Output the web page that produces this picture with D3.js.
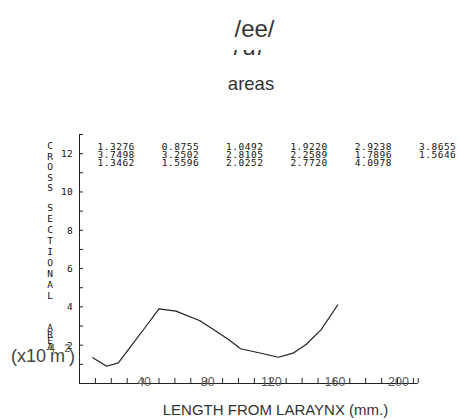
<!DOCTYPE html>
<html>
<head>
<meta charset="utf-8">
<script src="https://cdn.jsdelivr.net/npm/d3@7"></script>
<style>
  html, body { margin: 0; padding: 0; background: #fff; }
  svg { display: block; }
  .sans { font-family: "Liberation Sans", Arial, sans-serif; }
  .mono { font-family: "DejaVu Sans Mono", monospace; }
</style>
</head>
<body>
<div id="chart"></div>
<script>
// Cross-sectional area of the vocal tract along its length, /ee/
const sectionPositions = [8.4, 17.4, 24.7, 32.7, 41.8, 50.3, 61.0, 76.1, 84.3, 94.3, 101.6, 113.8, 125.4, 134.6, 143.0, 152.2, 162.9];
const areaValues = [1.3276, 0.8755, 1.0492, 1.9220, 2.9238, 3.8655,
                    3.7498, 3.2502, 2.8105, 2.2589, 1.7896, 1.5646,
                    1.3462, 1.5596, 2.0252, 2.7720, 4.0978];
const xTickValues = d3.range(10, 211, 10);
const xLabelValues = [40, 80, 120, 160, 200];
const yTickValues = d3.range(1, 14);
const yLabelValues = [2, 4, 6, 8, 10, 12];
const yTitleWords = ["CROSS", "SECTIONAL", "AREA"];

const W = 460, H = 420;
const svg = d3.select("#chart").append("svg").attr("width", W).attr("height", H);

const x = d3.scaleLinear().domain([0, 213]).range([79, 79 + 213 * 1.59]);
const y = d3.scaleLinear().domain([0, 13]).range([383, 134]);

// Titles
svg.append("text").attr("class", "sans")
  .attr("x", 254.5).attr("y", 37).attr("text-anchor", "middle")
  .attr("font-size", 24).attr("fill", "#333").text("/ee/");

// second title line, cut off so only its lowest strokes remain
const clip = svg.append("defs").append("clipPath").attr("id", "cutLine");
clip.append("rect").attr("x", 200).attr("y", 50).attr("width", 110).attr("height", 6.5);
svg.append("text").attr("class", "sans")
  .attr("clip-path", "url(#cutLine)")
  .attr("x", 250).attr("y", 55).attr("text-anchor", "middle")
  .attr("font-size", 24).attr("letter-spacing", 2).attr("fill", "#333").text("/u/");

svg.append("text").attr("class", "sans")
  .attr("x", 251).attr("y", 90).attr("text-anchor", "middle")
  .attr("font-size", 18.5).attr("fill", "#333").text("areas");

// Axes
const yAxis = d3.axisLeft(y).tickValues(yTickValues).tickSizeInner(-4).tickSizeOuter(0)
  .tickFormat(d => yLabelValues.includes(d) ? d : "");
const gy = svg.append("g").attr("transform", "translate(79,0)").call(yAxis);
gy.attr("font-family", null);
gy.selectAll("path, line").attr("stroke", "#222");
gy.selectAll("text").attr("class", "mono").attr("font-size", 9.5).attr("letter-spacing", 0.3)
  .attr("fill", "#111").attr("x", -6).attr("dy", "0.36em");

const xAxis = d3.axisBottom(x).tickValues(xTickValues).tickSizeInner(-5).tickSizeOuter(0)
  .tickFormat(d => xLabelValues.includes(d) ? d : "");
const gx = svg.append("g").attr("transform", "translate(0,383)").call(xAxis);
gx.attr("font-family", null);
gx.select(".domain").attr("d", `M${x(0)},0.5H${x(213)}`).attr("stroke", "#222");
gx.selectAll("line").attr("stroke", "#222");
gx.selectAll("text").attr("class", "sans").attr("font-size", 12.5).attr("fill", "#555")
  .attr("y", 2.6).attr("dy", 0).attr("dx", 1);
// closing tick at the far end of the axis
gx.append("line").attr("x1", x(213) + 0.5).attr("x2", x(213) + 0.5).attr("y1", 0).attr("y2", -5).attr("stroke", "#222");

// Table of area values above the curve
const fmt = d3.format(".4f");
svg.append("g").selectAll("text")
  .data(areaValues)
  .join("text")
  .attr("class", "mono")
  .attr("font-size", 9.5)
  .attr("letter-spacing", 0.5)
  .attr("fill", "#111")
  .attr("x", (d, i) => 97.5 + (i % 6) * 64.3)
  .attr("y", (d, i) => 149.5 + Math.floor(i / 6) * 8.3)
  .text(d => fmt(d));

// Vertical axis title, one letter per line
const wordLayout = [
  { start: 146, step: 10.5 },
  { start: 208, step: 11 },
  { start: 328, step: 6.2 }
];
const letters = [];
yTitleWords.forEach((w, wi) => {
  [...w].forEach((ch, ci) => letters.push({ ch, yy: wordLayout[wi].start + ci * wordLayout[wi].step }));
});
svg.append("g").selectAll("text")
  .data(letters)
  .join("text")
  .attr("class", "mono")
  .attr("font-size", 9.5)
  .attr("fill", "#111")
  .attr("x", 50).attr("y", d => d.yy)
  .attr("text-anchor", "middle")
  .attr("dy", "0.36em")
  .text(d => d.ch);

// Unit label
const unit = svg.append("text").attr("class", "sans").attr("fill", "#444").attr("font-size", 18);
unit.append("tspan").attr("x", 11).attr("y", 362).text("(x10");
unit.append("tspan").attr("x", 46).attr("y", 352).attr("font-size", 10).text("-4");
unit.append("tspan").attr("x", 50).attr("y", 362).text("m");
unit.append("tspan").attr("x", 64.5).attr("y", 352).attr("font-size", 10).text("2");
unit.append("tspan").attr("x", 69).attr("y", 362).text(")");

// X axis title
svg.append("text").attr("class", "sans")
  .attr("x", 275.5).attr("y", 415).attr("text-anchor", "middle")
  .attr("font-size", 15).attr("fill", "#333")
  .text("LENGTH FROM LARAYNX (mm.)");

// Area function curve
const line = d3.line()
  .x((d, i) => x(sectionPositions[i]))
  .y(d => y(d));
svg.append("path")
  .datum(areaValues)
  .attr("d", line)
  .attr("fill", "none")
  .attr("stroke", "#222")
  .attr("stroke-width", 1.2)
  .attr("stroke-linejoin", "round");
</script>
</body>
</html>
